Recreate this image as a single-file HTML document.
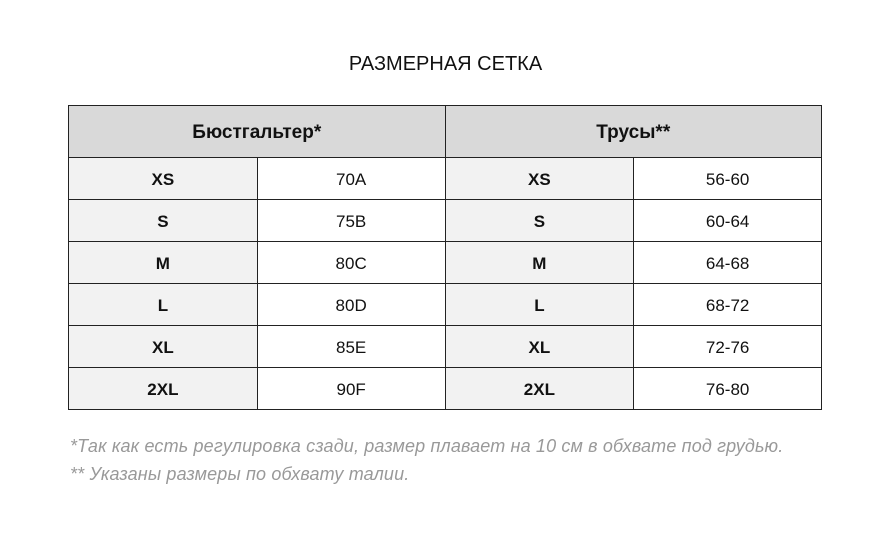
<!DOCTYPE html>
<html><head><meta charset="utf-8"><style>
body{margin:0;width:891px;height:534px;background:#fff;font-family:"Liberation Sans","DejaVu Sans",sans-serif;position:relative;overflow:hidden}
.t{position:absolute;left:0;width:891px;top:53px;text-align:center;font-size:20px;color:#111}
table{position:absolute;left:68px;top:105px;border-collapse:collapse;width:754px}
td{border:1px solid #222;text-align:center;font-size:17px;color:#111;height:39px;padding:2px 0 0 0}
tr.h td{height:49px;background:#d9d9d9;font-weight:bold;font-size:19px}
td.g{background:#f2f2f2;font-weight:bold;width:188px}
td.v{width:187px}
.n{position:absolute;left:70px;font-style:italic;color:#999;font-size:18px;letter-spacing:0.15px}
</style></head><body>
<div class="t">РАЗМЕРНАЯ СЕТКА</div>
<table>
<tr class="h"><td colspan="2">Бюстгальтер*</td><td colspan="2">Трусы**</td></tr>
<tr><td class="g">XS</td><td class="v">70A</td><td class="g">XS</td><td class="v">56-60</td></tr>
<tr><td class="g">S</td><td class="v">75B</td><td class="g">S</td><td class="v">60-64</td></tr>
<tr><td class="g">M</td><td class="v">80C</td><td class="g">M</td><td class="v">64-68</td></tr>
<tr><td class="g">L</td><td class="v">80D</td><td class="g">L</td><td class="v">68-72</td></tr>
<tr><td class="g">XL</td><td class="v">85E</td><td class="g">XL</td><td class="v">72-76</td></tr>
<tr><td class="g">2XL</td><td class="v">90F</td><td class="g">2XL</td><td class="v">76-80</td></tr>
</table>
<div class="n" style="top:436px">*Так как есть регулировка сзади, размер плавает на 10 см в обхвате под грудью.</div>
<div class="n" style="top:464px">** Указаны размеры по обхвату талии.</div>
</body></html>
